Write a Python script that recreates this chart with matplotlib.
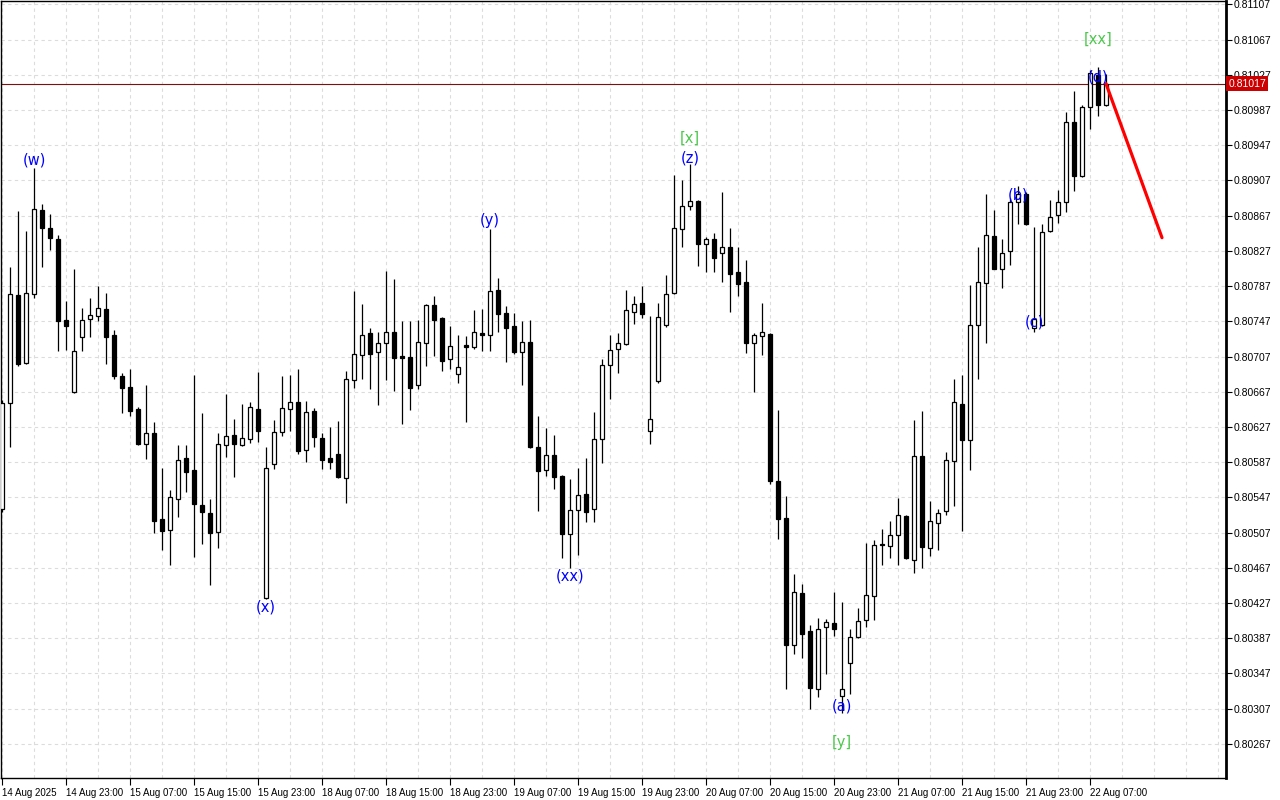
import matplotlib
matplotlib.use("Agg")
import matplotlib.pyplot as plt
import numpy as np

# ---- data (hourly candles, EURGBP-like) ----
opens = [0.80534, 0.80654, 0.80777, 0.80700, 0.80778, 0.80873, 0.80853, 0.80841, 0.80749, 0.80667,
         0.80729, 0.80750, 0.80753, 0.80761, 0.80731, 0.80685, 0.80672, 0.80647, 0.80608, 0.80620,
         0.80522, 0.80510, 0.80545, 0.80592, 0.80578, 0.80538, 0.80529, 0.80508, 0.80607, 0.80618,
         0.80607, 0.80613, 0.80647, 0.80433, 0.80585, 0.80621, 0.80647, 0.80655, 0.80601, 0.80645,
         0.80614, 0.80592, 0.80596, 0.80569, 0.80680, 0.80709, 0.80734, 0.80712, 0.80722, 0.80735,
         0.80708, 0.80706, 0.80675, 0.80722, 0.80766, 0.80751, 0.80704, 0.80687, 0.80720, 0.80718,
         0.80734, 0.80731, 0.80783, 0.80756, 0.80742, 0.80712, 0.80723, 0.80604, 0.80578, 0.80595,
         0.80571, 0.80505, 0.80533, 0.80551, 0.80534, 0.80613, 0.80697, 0.80716, 0.80721, 0.80758,
         0.80768, 0.80622, 0.80679, 0.80743, 0.80779, 0.80852, 0.80878, 0.80884, 0.80835, 0.80841,
         0.80825, 0.80832, 0.80803, 0.80792, 0.80722, 0.80730, 0.80733, 0.80566, 0.80524, 0.80379,
         0.80438, 0.80395, 0.80329, 0.80400, 0.80404, 0.80321, 0.80359, 0.80388, 0.80408, 0.80435,
         0.80494, 0.80492, 0.80504, 0.80526, 0.80476, 0.80594, 0.80490, 0.80518, 0.80531, 0.80588,
         0.80653, 0.80612, 0.80743, 0.80790, 0.80844, 0.80807, 0.80827, 0.80882, 0.80892, 0.80739,
         0.80743, 0.80850, 0.80868, 0.80882, 0.80973, 0.80912, 0.80990, 0.81027, 0.80993]
highs = [0.80658, 0.80809, 0.80872, 0.80850, 0.80921, 0.80880, 0.80869, 0.80845, 0.80770, 0.80806,
         0.80762, 0.80774, 0.80787, 0.80779, 0.80737, 0.80688, 0.80693, 0.80650, 0.80675, 0.80633,
         0.80580, 0.80555, 0.80607, 0.80607, 0.80686, 0.80643, 0.80545, 0.80620, 0.80664, 0.80636,
         0.80653, 0.80655, 0.80689, 0.80604, 0.80635, 0.80685, 0.80686, 0.80693, 0.80657, 0.80649,
         0.80620, 0.80627, 0.80634, 0.80690, 0.80781, 0.80767, 0.80739, 0.80735, 0.80804, 0.80795,
         0.80747, 0.80747, 0.80749, 0.80767, 0.80776, 0.80752, 0.80742, 0.80731, 0.80730, 0.80760,
         0.80761, 0.80852, 0.80796, 0.80764, 0.80756, 0.80747, 0.80749, 0.80639, 0.80626, 0.80618,
         0.80572, 0.80568, 0.80580, 0.80592, 0.80644, 0.80704, 0.80731, 0.80734, 0.80783, 0.80776,
         0.80787, 0.80753, 0.80768, 0.80800, 0.80913, 0.80907, 0.80926, 0.80885, 0.80843, 0.80847,
         0.80894, 0.80853, 0.80832, 0.80817, 0.80734, 0.80768, 0.80734, 0.80646, 0.80549, 0.80460,
         0.80449, 0.80402, 0.80410, 0.80409, 0.80440, 0.80428, 0.80398, 0.80421, 0.80495, 0.80499,
         0.80511, 0.80520, 0.80546, 0.80527, 0.80635, 0.80645, 0.80543, 0.80534, 0.80599, 0.80682,
         0.80686, 0.80788, 0.80831, 0.80892, 0.80873, 0.80840, 0.80887, 0.80901, 0.80894, 0.80854,
         0.80857, 0.80885, 0.80896, 0.80985, 0.81009, 0.80993, 0.81032, 0.81036, 0.81028]
lows = [0.80530, 0.80604, 0.80696, 0.80698, 0.80774, 0.80809, 0.80828, 0.80713, 0.80714, 0.80666,
        0.80713, 0.80729, 0.80747, 0.80698, 0.80682, 0.80643, 0.80639, 0.80606, 0.80591, 0.80506,
        0.80487, 0.80470, 0.80525, 0.80553, 0.80479, 0.80494, 0.80447, 0.80490, 0.80593, 0.80570,
        0.80605, 0.80609, 0.80610, 0.80431, 0.80579, 0.80617, 0.80622, 0.80596, 0.80587, 0.80604,
        0.80579, 0.80579, 0.80569, 0.80541, 0.80671, 0.80682, 0.80670, 0.80652, 0.80680, 0.80668,
        0.80630, 0.80646, 0.80670, 0.80696, 0.80708, 0.80690, 0.80693, 0.80677, 0.80633, 0.80715,
        0.80713, 0.80713, 0.80735, 0.80701, 0.80710, 0.80675, 0.80603, 0.80531, 0.80571, 0.80556,
        0.80478, 0.80467, 0.80481, 0.80519, 0.80519, 0.80586, 0.80659, 0.80688, 0.80720, 0.80744,
        0.80751, 0.80608, 0.80677, 0.80741, 0.80778, 0.80832, 0.80874, 0.80810, 0.80803, 0.80803,
        0.80792, 0.80758, 0.80776, 0.80711, 0.80667, 0.80709, 0.80562, 0.80500, 0.80329, 0.80369,
        0.80364, 0.80307, 0.80320, 0.80346, 0.80389, 0.80302, 0.80324, 0.80387, 0.80400, 0.80408,
        0.80470, 0.80478, 0.80470, 0.80477, 0.80461, 0.80467, 0.80480, 0.80487, 0.80527, 0.80537,
        0.80509, 0.80578, 0.80682, 0.80722, 0.80806, 0.80785, 0.80811, 0.80857, 0.80856, 0.80735,
        0.80742, 0.80848, 0.80859, 0.80871, 0.80895, 0.80911, 0.80966, 0.80980, 0.80992]
closes = [0.80654, 0.80778, 0.80699, 0.80779, 0.80875, 0.80853, 0.80842, 0.80747, 0.80742, 0.80713,
          0.80749, 0.80754, 0.80762, 0.80729, 0.80685, 0.80671, 0.80645, 0.80608, 0.80620, 0.80520,
          0.80509, 0.80547, 0.80589, 0.80576, 0.80540, 0.80530, 0.80507, 0.80608, 0.80617, 0.80608,
          0.80614, 0.80650, 0.80622, 0.80580, 0.80621, 0.80649, 0.80655, 0.80600, 0.80644, 0.80616,
          0.80589, 0.80587, 0.80570, 0.80682, 0.80710, 0.80731, 0.80710, 0.80722, 0.80735, 0.80705,
          0.80705, 0.80671, 0.80723, 0.80766, 0.80749, 0.80702, 0.80719, 0.80695, 0.80718, 0.80735,
          0.80731, 0.80781, 0.80755, 0.80739, 0.80712, 0.80723, 0.80604, 0.80577, 0.80595, 0.80570,
          0.80505, 0.80533, 0.80550, 0.80530, 0.80613, 0.80697, 0.80714, 0.80722, 0.80760, 0.80767,
          0.80755, 0.80636, 0.80752, 0.80778, 0.80853, 0.80878, 0.80884, 0.80835, 0.80841, 0.80819,
          0.80832, 0.80801, 0.80789, 0.80722, 0.80731, 0.80735, 0.80566, 0.80522, 0.80379, 0.80440,
          0.80392, 0.80331, 0.80398, 0.80405, 0.80398, 0.80329, 0.80388, 0.80407, 0.80436, 0.80493,
          0.80493, 0.80504, 0.80527, 0.80478, 0.80594, 0.80491, 0.80520, 0.80529, 0.80589, 0.80655,
          0.80612, 0.80743, 0.80792, 0.80845, 0.80807, 0.80825, 0.80882, 0.80892, 0.80858, 0.80750,
          0.80849, 0.80866, 0.80882, 0.80973, 0.80912, 0.80990, 0.81029, 0.80993, 0.81017]

time_labels = ["14 Aug 2025", "14 Aug 23:00", "15 Aug 07:00", "15 Aug 15:00", "15 Aug 23:00",
               "18 Aug 07:00", "18 Aug 15:00", "18 Aug 23:00", "19 Aug 07:00", "19 Aug 15:00",
               "19 Aug 23:00", "20 Aug 07:00", "20 Aug 15:00", "20 Aug 23:00", "21 Aug 07:00",
               "21 Aug 15:00", "21 Aug 23:00", "22 Aug 07:00"]
label_step = 8

current_price = 0.81017
projection_bars = [138, 145]
projection_prices = [0.81017, 0.80842]

wave_labels = ["(w)", "(x)", "(y)", "(xx)", "[x]", "(z)", "(a)", "[y]", "(b)", "(c)", "(d)", "[xx]"]
wave_bars = [4, 33, 61, 71, 86, 86, 105, 105, 127, 129, 137, 137]
wave_prices = [0.80930, 0.80422, 0.80862, 0.80458, 0.80955, 0.80932, 0.80310, 0.80269,
               0.80890, 0.80746, 0.81024, 0.81067]
wave_kinds = ["minor", "minor", "minor", "minor", "major", "minor", "minor", "major",
              "minor", "minor", "minor", "major"]

ytick_top = 0.81107
ytick_step = 0.0004
ytick_count = 22

TICK_FONT = ["Liberation Sans", "DejaVu Sans"]

# ---- figure ----
fig = plt.figure(figsize=(12.8, 8), dpi=100)
ax = fig.add_axes([1 / 1280, 22 / 800, 1225 / 1280, 777 / 800])

n = len(opens)
x = np.arange(n)
o = np.array(opens); h = np.array(highs); l = np.array(lows); c = np.array(closes)
bull = c >= o

ax.vlines(x, l, h, color="black", lw=0.9, zorder=3)
bottoms = np.minimum(o, c)
heights = np.maximum(np.abs(c - o), 0.000012)
ax.bar(x, heights, bottom=bottoms, width=0.62,
       color=np.where(bull, "white", "black"), edgecolor="black", linewidth=0.9, zorder=4)

ax.axhline(current_price, color="#7a1010", lw=0.8, zorder=2)
ax.plot(projection_bars, projection_prices, color="#ff0000", lw=2.3, zorder=5,
        solid_capstyle="round")

for txt, b, p, k in zip(wave_labels, wave_bars, wave_prices, wave_kinds):
    col = "#0000ff" if k == "minor" else "#4cc84c"
    ax.text(b, p, txt, ha="center", va="center", color=col, fontsize=10.5, zorder=6)

ax.set_xlim(-0.125, 153)
ax.set_ylim(0.802282, 0.811109)

yt = [round(ytick_top - k * ytick_step, 5) for k in range(ytick_count)]
ax.set_yticks(yt)
ax.set_yticklabels([f"{v:.5f}" for v in yt], family=TICK_FONT)
ax.yaxis.tick_right()
ax.tick_params(axis="y", direction="out", length=4, width=0.8, pad=1.5, labelsize=7.5,
               colors="black")

major_x = list(range(0, label_step * len(time_labels), label_step))
ax.set_xticks(major_x)
ax.set_xticklabels(time_labels, family=TICK_FONT)
for lbl in ax.get_xticklabels():
    lbl.set_ha("left")
ax.set_xticks(np.arange(0, 154, 4), minor=True)
ax.tick_params(axis="x", which="major", direction="out", length=5, width=0.8, pad=2,
               labelsize=7)
ax.tick_params(axis="x", which="minor", length=0)

ax.grid(which="both", axis="x", ls=(0, (3, 3)), color="#dcdcdc", lw=0.8, zorder=0)
ax.grid(which="major", axis="y", ls=(0, (3, 3)), color="#dcdcdc", lw=0.8, zorder=0)
ax.set_axisbelow(True)

for s in ax.spines.values():
    s.set_color("black")
    s.set_linewidth(1.0)
ax.spines["right"].set_linewidth(2.0)

ax.text(1.0018, current_price, f"{current_price:.5f}", transform=ax.get_yaxis_transform(),
        ha="left", va="center", fontsize=7.5, family=TICK_FONT, color="white", zorder=10,
        clip_on=False, bbox=dict(facecolor="#cc0000", edgecolor="none", pad=1.6))

fig.savefig("out.png", dpi=100)
